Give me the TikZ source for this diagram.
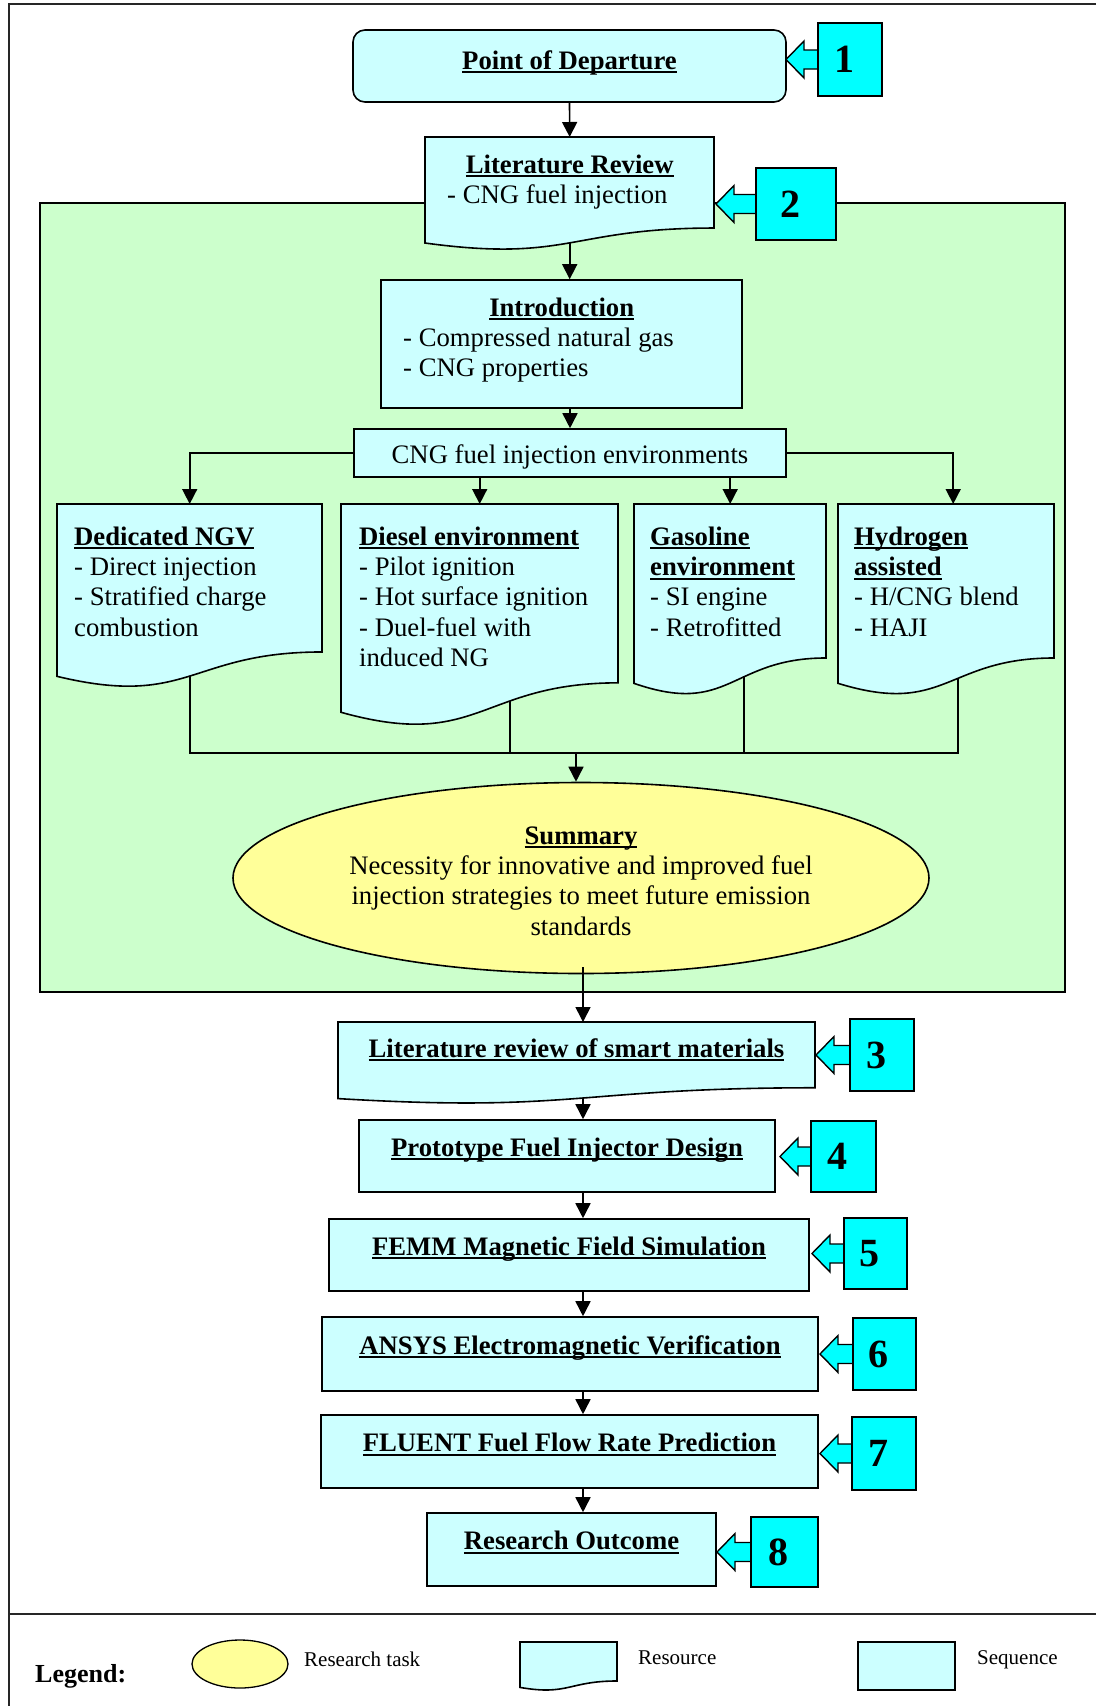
\documentclass[tikz,border=0pt]{standalone}
\usepackage{fontspec}
\setmainfont{Liberation Serif}
\usetikzlibrary{arrows.meta,shapes.geometric,calc}

\definecolor{boxcyan}{HTML}{CCFFFF}
\definecolor{tagcyan}{HTML}{00FFFF}
\definecolor{panelgreen}{HTML}{CCFFCC}
\definecolor{taskyellow}{HTML}{FFFF99}

\pgfdeclarelayer{panel}
\pgfdeclarelayer{links}
\pgfsetlayers{panel,links,main}

% bold text with a close underline
\newcommand\ulbf[1]{\leavevmode{\bfseries\setbox0=\hbox{#1}\rlap{\rule[-4.2pt]{\wd0}{1.8pt}}\box0}}
\newcommand\bodyfont{\fontsize{26.7pt}{30.4pt}\selectfont}
\newcommand\numfont{\fontsize{40pt}{40pt}\selectfont\bfseries}
\newcommand\legfont{\fontsize{21pt}{21pt}\selectfont}

% resource (document) outline: name, left, top, right, nominal height
\newcommand\docshape[5]{%
  \path[shapeline, fill=boxcyan] (#2,#3) -- (#4,#3) -- (#4,{#3+0.802*#5})
    .. controls ({(#2+#4)/2},{#3+0.802*#5}) and ({(#2+#4)/2},{#3+1.1075*#5})
    .. (#2,{#3+0.934*#5}) -- cycle;
  \node[inner sep=0pt, minimum width={#4-#2}, minimum height={0.934*#5},
        anchor=north west] (#1) at (#2,#3) {};
}

% numbered step tag with block arrow: name, left, top, right, bottom, tip x, number
\newcommand\steptag[7]{%
  \pgfmathsetmacro\tagcy{(#3+#5)/2}%
  \path[shapeline, line width=1.4pt, fill=tagcyan]
    ({#2+4},{\tagcy-9.5}) -- ({#6+18},{\tagcy-9.5}) -- ({#6+18},{\tagcy-18.5})
    -- (#6,\tagcy) -- ({#6+18},{\tagcy+18.5}) -- ({#6+18},{\tagcy+9.5})
    -- ({#2+4},{\tagcy+9.5});
  \node[tagbox, minimum width={#4-#2}, minimum height={#5-#3}] (#1)
    at ({(#2+#4)/2},\tagcy) {#7\hspace*{12pt}};
}

\begin{document}
\begin{tikzpicture}[x=1pt,y=-1pt,
  shapeline/.style={draw=black, line width=1.6pt, line join=miter},
  seqbox/.style={shapeline, fill=boxcyan, rectangle, inner sep=0pt,
                 text height=10pt, text depth=10pt, font=\bodyfont},
  doctext/.style={inner sep=0pt, font=\bodyfont, anchor=base west},
  wire/.style={line width=1.6pt},
  arr/.style={wire, -{Triangle[length=15pt,width=15pt]}},
  tagbox/.style={shapeline, line width=1.4pt, fill=tagcyan, inner sep=0pt, font=\numfont},
  legtext/.style={inner sep=0pt, anchor=base west, font=\legfont}]

\useasboundingbox (0,0) rectangle (1096,1706);

\begin{pgfonlayer}{panel}
  \fill[white] (0,0) rectangle (1096,1706);
  \draw[line width=1.5pt, draw=black!85] (1096,4) -- (9,4) -- (9,1706);
  \draw[line width=1.5pt, draw=black!85] (9,1614) -- (1096,1614);
  \draw[shapeline, fill=panelgreen] (40,203) rectangle (1065,992);
\end{pgfonlayer}

% ---- literature part ----
\node[seqbox, rounded corners=12pt, minimum width=433, minimum height=72,
      text height=13pt, text depth=7pt] (pod) at (569.5,66) {\ulbf{Point of Departure}};

\docshape{lit}{425}{137}{714}{113.5}
\node[doctext] (lit-t) at (447,173) {\begin{minipage}[t]{245pt}\makebox[\linewidth]{\ulbf{Literature Review}}\\- CNG fuel injection\end{minipage}};

\node[seqbox, minimum width=361, minimum height=128] (intro) at (561.5,344) {};
\node[doctext] (intro-t) at (403,316) {\begin{minipage}[t]{317pt}\makebox[\linewidth]{\ulbf{Introduction}}\\- Compressed natural gas\\- CNG properties\end{minipage}};

\node[seqbox, minimum width=432, minimum height=48, text height=20pt, text depth=0pt]
  (cng) at (570,453) {CNG fuel injection environments};

\docshape{ded}{57}{504}{322}{184.5}
\node[doctext] (ded-t) at (74,545) {\begin{minipage}[t]{240pt}\ulbf{Dedicated NGV}\\- Direct injection\\- Stratified charge\\combustion\end{minipage}};

\docshape{dies}{341}{504}{618}{223}
\node[doctext] (dies-t) at (359,545) {\begin{minipage}[t]{250pt}\ulbf{Diesel environment}\\- Pilot ignition\\- Hot surface ignition\\- Duel-fuel with\\induced NG\end{minipage}};

\docshape{gas}{634}{504}{826}{192}
\node[doctext] (gas-t) at (650,545) {\begin{minipage}[t]{170pt}\ulbf{Gasoline}\\\ulbf{environment}\\- SI engine\\- Retrofitted\end{minipage}};

\docshape{hyd}{838}{504}{1054}{192}
\node[doctext] (hyd-t) at (854,545) {\begin{minipage}[t]{190pt}\ulbf{Hydrogen}\\\ulbf{assisted}\\- H/CNG blend\\- HAJI\end{minipage}};

\node[ellipse, shapeline, fill=taskyellow, minimum width=696, minimum height=191,
      inner sep=0pt] (sum) at (581,878) {};
\node[inner sep=0pt, anchor=base, font=\bodyfont] (sum-t) at (581,844)
  {\begin{minipage}[t]{600pt}\centering\ulbf{Summary}\\Necessity for innovative and improved fuel\\injection strategies to meet future emission\\standards\end{minipage}};

% ---- design and simulation part ----
\docshape{lrsm}{338}{1022}{815}{82}
\node[inner sep=0pt, anchor=base, font=\bodyfont] (lrsm-t) at (576.5,1057)
  {\ulbf{Literature review of smart materials}};

\node[seqbox, minimum width=416, minimum height=72] (proto) at (567,1156) {\ulbf{Prototype Fuel Injector Design}};
\node[seqbox, minimum width=480, minimum height=72] (femm) at (569,1255) {\ulbf{FEMM Magnetic Field Simulation}};
\node[seqbox, minimum width=496, minimum height=74] (ansys) at (570,1354) {\ulbf{ANSYS Electromagnetic Verification}};
\node[seqbox, minimum width=497, minimum height=73] (fluent) at (569.5,1451.5) {\ulbf{FLUENT Fuel Flow Rate Prediction}};
\node[seqbox, minimum width=289, minimum height=73] (outc) at (571.5,1549.5) {\ulbf{Research Outcome}};

% ---- step numbers ----
\steptag{t1}{818}{23}{882}{96}{786}{1}
\steptag{t2}{756}{168}{836}{240}{716}{2}
\steptag{t3}{850}{1019}{914}{1091}{816}{3}
\steptag{t4}{811}{1121}{876}{1192}{780}{4}
\steptag{t5}{844}{1218}{907}{1289}{812}{5}
\steptag{t6}{853}{1318}{916}{1390}{820}{6}
\steptag{t7}{852}{1417}{916}{1490}{820}{7}
\steptag{t8}{751}{1517}{818}{1587}{717}{8}

% ---- connectors ----
\coordinate (merge) at (576,753);
\coordinate (spine) at (583,0);
\coordinate (sumfoot) at ([yshift=7pt]sum.south);

\begin{pgfonlayer}{links}
  \draw[arr] (pod.south) -- (lit.north);
  \draw[arr] (lit.center) -- (lit.center |- intro.north);
  \draw[arr] (cng.north |- intro.south) -- (cng.north);
  \draw[arr] (cng.west) -| (ded.north);
  \draw[arr] (cng.east) -| ([xshift=7pt]hyd.north);
  \draw[arr] (cng.south -| dies.north) -- (dies.north);
  \draw[arr] (cng.south -| gas.north) -- (gas.north);
  \draw[wire] (ded.center) |- ([xshift=12pt]hyd.center |- merge) -- ([xshift=12pt]hyd.center);
  \draw[wire] ([xshift=30pt]dies.center) -- ([xshift=30pt]dies.center |- merge);
  \draw[wire] ([xshift=14pt]gas.center) -- ([xshift=14pt]gas.center |- merge);
  \draw[arr] (merge) -- (merge |- sum.north);
  \draw[arr] (lrsm.center -| spine) -- (proto.north -| spine);
  \draw[arr] (proto.south -| spine) -- (femm.north -| spine);
  \draw[arr] (femm.south -| spine) -- (ansys.north -| spine);
  \draw[arr] (ansys.south -| spine) -- (fluent.north -| spine);
  \draw[arr] (fluent.south -| spine) -- (outc.north -| spine);
\end{pgfonlayer}
\draw[arr] (sumfoot -| spine) -- (lrsm.north -| spine);

% ---- legend ----
\node[inner sep=0pt, anchor=base west, font=\fontsize{26pt}{26pt}\selectfont\bfseries]
  (legend) at (35,1682) {Legend:};
\node[ellipse, shapeline, line width=1.3pt, fill=taskyellow, minimum width=96,
      minimum height=48, inner sep=0pt] (leg-task) at (240,1664) {};
\node[legtext] (leg-task-t) at (304,1666) {Research task};
\docshape{leg-res}{520}{1642}{617}{48.6}
\node[legtext] (leg-res-t) at (638,1664) {Resource};
\node[seqbox, line width=1.3pt, minimum width=97, minimum height=48] (leg-seq) at (906.5,1666) {};
\node[legtext] (leg-seq-t) at (977,1664) {Sequence};
\end{tikzpicture}
\end{document}
